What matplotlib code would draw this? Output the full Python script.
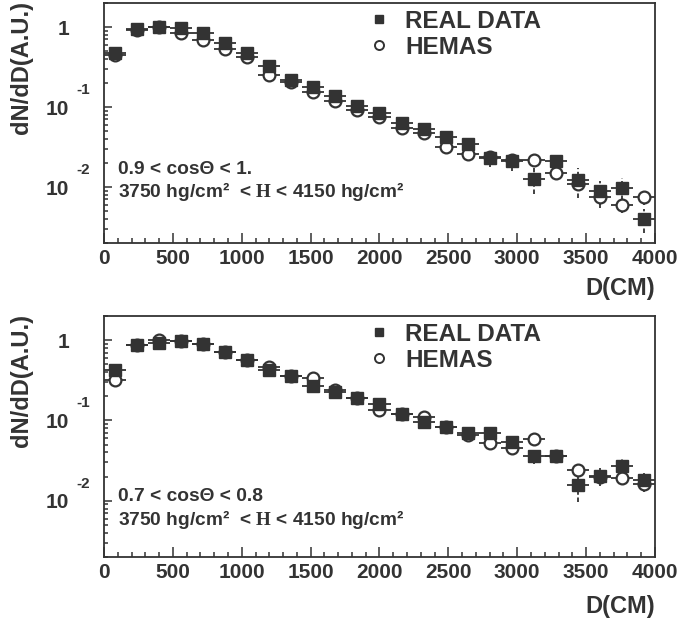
import matplotlib
matplotlib.use('Agg')
import matplotlib.pyplot as plt
from matplotlib.lines import Line2D
from matplotlib.ticker import FixedLocator, LogLocator, MultipleLocator, NullFormatter
import matplotlib.transforms as mtransforms

plt.rcParams['font.family'] = ['Liberation Sans', 'DejaVu Sans']
plt.rcParams['font.weight'] = 'bold'
plt.rcParams['mathtext.fontset'] = 'custom'
plt.rcParams['mathtext.rm'] = 'Liberation Serif'

ink = '#333333'

# bin centres (cm), bin half width 80 cm
d_cm = [80, 240, 400, 560, 720, 880, 1040, 1200, 1360, 1520, 1680, 1840, 2000,
        2160, 2320, 2480, 2640, 2800, 2960, 3120, 3280, 3440, 3600, 3760, 3920]
half_bin = 80

# 0.9 < cos(theta) < 1
real_1 = [0.47, 0.94, 1.0, 0.97, 0.84, 0.63, 0.47, 0.33, 0.22, 0.18, 0.137, 0.103, 0.084,
          0.063, 0.053, 0.042, 0.035, 0.023, 0.021, 0.0126, 0.021, 0.0123, 0.0089, 0.0098, 0.0040]
real_1_err = [0.02, 0.03, 0.03, 0.03, 0.025, 0.02, 0.016, 0.012, 0.008, 0.007, 0.006, 0.005, 0.0045,
              0.004, 0.004, 0.0045, 0.005, 0.005, 0.005, 0.0045, 0.004, 0.005, 0.003, 0.003, 0.0013]
hemas_1 = [0.45, 0.92, 1.0, 0.84, 0.69, 0.53, 0.42, 0.25, 0.205, 0.155, 0.12, 0.092, 0.075,
           0.055, 0.047, 0.032, 0.026, 0.024, 0.022, 0.022, 0.015, 0.011, 0.0075, 0.0060, 0.0075]
hemas_1_err = [0.01, 0.02, 0.02, 0.02, 0.015, 0.012, 0.01, 0.008, 0.006, 0.005, 0.004, 0.004, 0.003,
               0.003, 0.003, 0.002, 0.002, 0.002, 0.002, 0.002, 0.0015, 0.0015, 0.002, 0.0012, 0.0015]

# 0.7 < cos(theta) < 0.8
real_2 = [0.42, 0.87, 0.92, 0.97, 0.89, 0.71, 0.56, 0.43, 0.355, 0.27, 0.225, 0.19, 0.16,
          0.122, 0.095, 0.084, 0.069, 0.070, 0.054, 0.036, 0.036, 0.0158, 0.0205, 0.0274, 0.018]
real_2_err = [0.02, 0.03, 0.03, 0.03, 0.03, 0.025, 0.02, 0.016, 0.014, 0.012, 0.01, 0.009, 0.008,
              0.007, 0.007, 0.007, 0.007, 0.008, 0.007, 0.007, 0.006, 0.006, 0.005, 0.006, 0.005]
hemas_2 = [0.32, 0.87, 1.0, 0.98, 0.89, 0.71, 0.56, 0.46, 0.36, 0.335, 0.24, 0.19, 0.135,
           0.122, 0.112, 0.084, 0.066, 0.052, 0.045, 0.059, 0.036, 0.024, 0.020, 0.0195, 0.0163]
hemas_2_err = [0.015, 0.02, 0.02, 0.02, 0.02, 0.015, 0.012, 0.01, 0.008, 0.008, 0.006, 0.005, 0.004,
               0.004, 0.004, 0.003, 0.003, 0.003, 0.003, 0.003, 0.003, 0.002, 0.002, 0.002, 0.002]

panels = [
    dict(rect=[0.1514, 0.6087, 0.802, 0.3865], real=real_1, real_err=real_1_err,
         hemas=hemas_1, hemas_err=hemas_1_err, cut='0.9 < cos\u0398 < 1.',
         cut_y=(0.308, 0.2125), xlab_y=-0.19),
    dict(rect=[0.1514, 0.1031, 0.802, 0.3881], real=real_2, real_err=real_2_err,
         hemas=hemas_2, hemas_err=hemas_2_err, cut='0.7 < cos\u0398 < 0.8',
         cut_y=(0.249, 0.154), xlab_y=-0.207),
]

fig = plt.figure(figsize=(6.87, 6.21), dpi=100)

for p in panels:
    ax = fig.add_axes(p['rect'])
    ax.set_yscale('log')
    ax.set_xlim(0, 4000)
    ax.set_ylim(2e-3, 2.0)

    for vals, errs, mfc in [(p['hemas'], p['hemas_err'], 'white'),
                            (p['real'], p['real_err'], ink)]:
        ax.errorbar(d_cm, vals, xerr=half_bin, fmt='none', ecolor=ink, elinewidth=1.3, zorder=2)
        eb = ax.errorbar(d_cm, vals, yerr=errs, fmt='none', ecolor=ink, elinewidth=1.3, zorder=2)
        eb[2][0].set_linestyle((0, (2.5, 1.5)))
        if mfc == 'white':
            ax.plot(d_cm, vals, 'o', ms=8.5, mfc='white', mec=ink, mew=1.6, zorder=3)
        else:
            ax.plot(d_cm, vals, 's', ms=8, mfc=ink, mec=ink, zorder=4)

    for s in ax.spines.values():
        s.set_linewidth(1.3)
        s.set_color(ink)

    ax.xaxis.set_major_locator(MultipleLocator(500))
    ax.xaxis.set_minor_locator(MultipleLocator(100))
    ax.yaxis.set_major_locator(FixedLocator([0.01, 0.1, 1.0]))
    ax.yaxis.set_minor_locator(LogLocator(base=10, subs=range(2, 10)))
    ax.yaxis.set_minor_formatter(NullFormatter())
    ax.set_yticklabels(['10', '10', '1'])
    ax.tick_params(which='both', direction='in', top=False, right=False, colors=ink,
                   labelsize=15, width=1.1)
    ax.tick_params(axis='x', which='major', length=7, pad=4)
    ax.tick_params(axis='x', which='minor', length=3.5)
    ax.tick_params(axis='y', which='major', length=6, pad=25)
    ax.tick_params(axis='y', which='minor', length=3)

    # exponents of the decade labels
    trans = mtransforms.blended_transform_factory(ax.transAxes, ax.transData)
    for val, ex in [(0.1, '-1'), (0.01, '-2')]:
        ax.annotate(ex, xy=(0, val), xycoords=trans, xytext=(-21, 17), textcoords='offset pixels',
                    ha='center', va='center', fontsize=11, color=ink)

    ax.text(-0.149, 1.01, 'dN/dD(A.U.)', transform=ax.transAxes, rotation=90,
            ha='center', va='top', fontsize=17, color=ink)
    ax.text(1.0, p['xlab_y'], 'D(CM)', transform=ax.transAxes, ha='right', va='center',
            fontsize=17, color=ink)

    ax.text(0.025, p['cut_y'][0], p['cut'], transform=ax.transAxes, va='center',
            fontsize=13.8, color=ink)
    ax.text(0.025, p['cut_y'][1], '3750 hg/cm\u00b2  < $\\mathrm{H}$ < 4150 hg/cm\u00b2',
            transform=ax.transAxes, va='center', fontsize=13.8, color=ink)

    handles = [Line2D([], [], marker='s', ls='none', ms=6, mfc=ink, mec=ink),
               Line2D([], [], marker='o', ls='none', ms=6.5, mfc='white', mec=ink, mew=1.4)]
    leg = ax.legend(handles, ['REAL DATA', 'HEMAS'], loc='upper left',
                    bbox_to_anchor=(0.486, 0.971), frameon=False, fontsize=17.5,
                    handlelength=0.6, handletextpad=0.77, labelspacing=0.12,
                    borderpad=0, borderaxespad=0)
    for t in leg.get_texts():
        t.set_color(ink)

fig.savefig('out.png', dpi=100)
